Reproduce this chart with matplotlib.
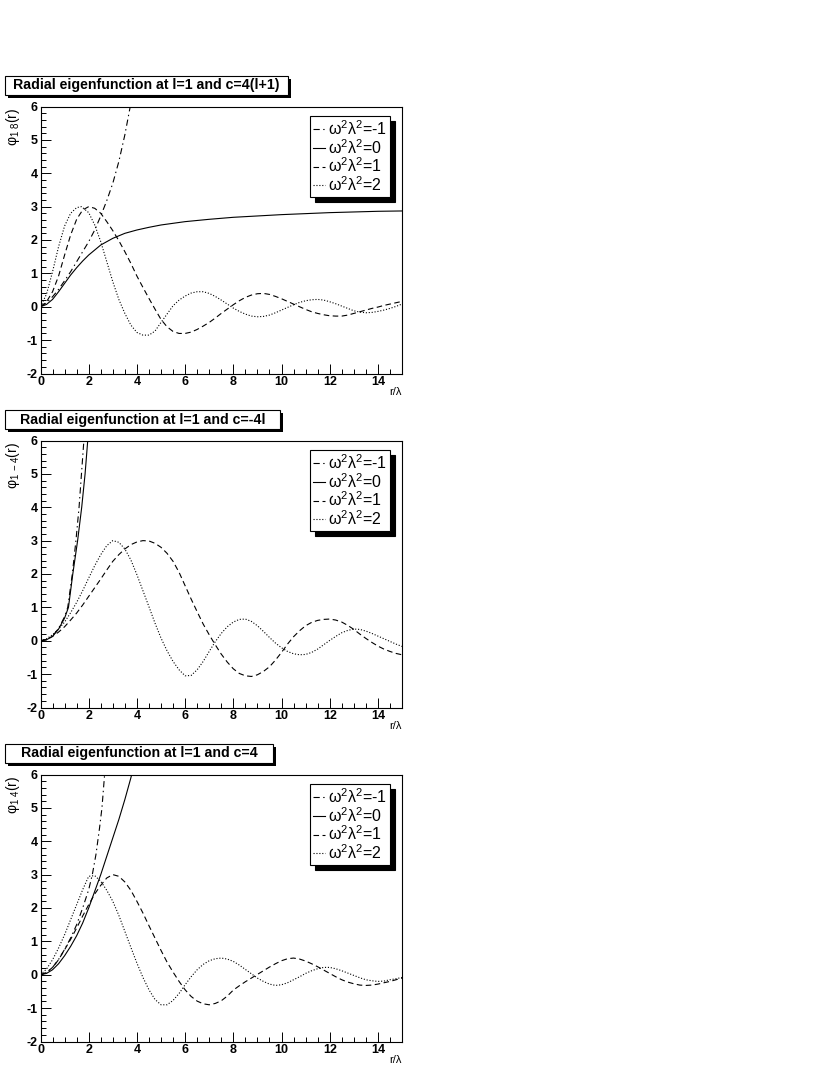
import matplotlib
matplotlib.use('Agg')
import matplotlib.pyplot as plt
from matplotlib.patches import Rectangle
from matplotlib.lines import Line2D

plt.rcParams['font.family'] = ['Liberation Sans', 'DejaVu Sans']
plt.rcParams['mathtext.fontset'] = 'custom'
plt.rcParams['mathtext.rm'] = 'Liberation Sans'
plt.rcParams['mathtext.it'] = 'Liberation Sans:italic'
plt.rcParams['mathtext.bf'] = 'Liberation Sans:bold'
plt.rcParams['lines.scale_dashes'] = False
plt.rcParams['axes.unicode_minus'] = False

# ---------------- data ----------------
titles = ["Radial eigenfunction at l=1 and c=4(l+1)",
          "Radial eigenfunction at l=1 and c=-4l",
          "Radial eigenfunction at l=1 and c=4"]
ylabels = ["1 8", "1 -4", "1 4"]
legend_labels = [r"ω$^{2}$λ$^{2}$=-1", r"ω$^{2}$λ$^{2}$=0",
                 r"ω$^{2}$λ$^{2}$=1", r"ω$^{2}$λ$^{2}$=2"]
xticks = [0, 2, 4, 6, 8, 10, 12, 14]
yticks = [-2, -1, 0, 1, 2, 3, 4, 5, 6]

# panel 1: c = 4(l+1)
p1_m1_x = [0, 0.25, 0.5, 0.75, 1.0, 1.25, 1.5, 1.75, 2.0, 2.25, 2.5, 2.75, 3.0, 3.25, 3.5, 3.75]
p1_m1_y = [0, 0.12, 0.3, 0.52, 0.78, 1.05, 1.35, 1.65, 1.95, 2.3, 2.72, 3.18, 3.7, 4.35, 5.15, 6.1]
p1_0_x = [0, 0.25, 0.5, 0.75, 1, 1.25, 1.5, 1.75, 2, 2.5, 3, 3.5, 4, 4.5, 5, 6, 7, 8, 9, 10, 11, 12, 13, 14, 15]
p1_0_y = [0, 0.07, 0.22, 0.45, 0.7, 0.95, 1.17, 1.37, 1.55, 1.85, 2.05, 2.2, 2.3, 2.38, 2.45, 2.55,
          2.62, 2.68, 2.72, 2.76, 2.79, 2.82, 2.84, 2.86, 2.87]
p1_1_x = [0, 0.25, 0.5, 0.75, 1, 1.25, 1.5, 1.75, 2, 2.25, 2.5, 2.75, 3, 3.25, 3.5, 3.75, 4, 4.25,
          4.5, 4.75, 5, 5.25, 5.5, 5.75, 6, 6.25, 6.5, 6.75, 7, 7.25, 7.5, 7.75, 8, 8.25, 8.5, 8.75,
          9, 9.25, 9.5, 9.75, 10, 10.25, 10.5, 10.75, 11, 11.25, 11.5, 11.75, 12, 12.25, 12.5,
          12.75, 13, 13.25, 13.5, 13.75, 14, 14.25, 14.5, 14.75, 15]
p1_1_y = [0, 0.15, 0.45, 0.92, 1.55, 2.15, 2.62, 2.9, 3.0, 2.95, 2.8, 2.55, 2.28, 1.98, 1.65, 1.3,
          0.92, 0.58, 0.25, -0.07, -0.38, -0.6, -0.74, -0.8, -0.8, -0.76, -0.68, -0.58, -0.47,
          -0.34, -0.2, -0.07, 0.06, 0.18, 0.28, 0.35, 0.39, 0.4, 0.37, 0.31, 0.24, 0.16, 0.08, 0.0,
          -0.08, -0.15, -0.2, -0.24, -0.27, -0.28, -0.28, -0.25, -0.2, -0.15, -0.1, -0.05, -0.01,
          0.04, 0.08, 0.12, 0.16]
p1_2_x = [0, 0.25, 0.5, 0.75, 1, 1.25, 1.5, 1.7, 2, 2.25, 2.5, 2.75, 3, 3.25, 3.5, 3.75, 4, 4.25,
          4.5, 4.75, 5, 5.25, 5.5, 5.75, 6, 6.25, 6.5, 6.75, 7, 7.25, 7.5, 7.75, 8, 8.25, 8.5, 8.75,
          9, 9.25, 9.5, 9.75, 10, 10.25, 10.5, 10.75, 11, 11.25, 11.5, 11.75, 12, 12.25, 12.5,
          12.75, 13, 13.25, 13.5, 13.75, 14, 14.25, 14.5, 14.75, 15]
p1_2_y = [0, 0.38, 1.05, 1.8, 2.42, 2.8, 2.97, 3.0, 2.82, 2.45, 1.95, 1.35, 0.75, 0.22, -0.2, -0.55,
          -0.77, -0.85, -0.85, -0.73, -0.47, -0.22, 0.03, 0.2, 0.32, 0.41, 0.45, 0.45, 0.4, 0.31,
          0.2, 0.08, -0.04, -0.14, -0.22, -0.28, -0.3, -0.29, -0.25, -0.18, -0.1, -0.02, 0.06,
          0.13, 0.18, 0.21, 0.22, 0.2, 0.15, 0.09, 0.02, -0.05, -0.12, -0.16, -0.18, -0.17, -0.14,
          -0.1, -0.05, 0.01, 0.08]

# panel 2: c = -4l
p2_m1_x = [0, 0.25, 0.5, 0.75, 1, 1.13, 1.32, 1.47, 1.6, 1.7, 1.8, 1.85]
p2_m1_y = [0, 0.03, 0.14, 0.37, 0.72, 1.0, 2.0, 3.0, 4.0, 5.0, 6.0, 6.5]
p2_0_x = [0, 0.25, 0.5, 0.75, 1, 1.16, 1.34, 1.54, 1.71, 1.85, 1.96, 2.02]
p2_0_y = [0, 0.03, 0.13, 0.35, 0.68, 1.0, 2.0, 3.0, 4.0, 5.0, 6.0, 6.6]
p2_1_x = [0, 0.25, 0.5, 0.75, 1, 1.25, 1.5, 1.75, 2, 2.25, 2.5, 2.75, 3, 3.25, 3.5, 3.75, 4, 4.25,
          4.5, 4.75, 5, 5.25, 5.5, 5.75, 6, 6.25, 6.5, 6.75, 7, 7.25, 7.5, 7.75, 8, 8.25, 8.5, 8.75,
          9, 9.25, 9.5, 9.75, 10, 10.25, 10.5, 10.75, 11, 11.25, 11.5, 11.75, 12, 12.25, 12.5,
          12.75, 13, 13.25, 13.5, 13.75, 14, 14.25, 14.5, 14.75, 15]
p2_1_y = [0, 0.04, 0.13, 0.26, 0.42, 0.62, 0.83, 1.07, 1.33, 1.59, 1.85, 2.12, 2.38, 2.58, 2.75,
          2.88, 2.96, 3.0, 2.99, 2.92, 2.8, 2.62, 2.38, 2.05, 1.65, 1.25, 0.87, 0.5, 0.18, -0.12,
          -0.4, -0.64, -0.84, -0.98, -1.05, -1.07, -1.02, -0.92, -0.78, -0.58, -0.35, -0.1, 0.12,
          0.3, 0.45, 0.55, 0.61, 0.64, 0.65, 0.62, 0.56, 0.46, 0.34, 0.2, 0.07, -0.05, -0.16,
          -0.25, -0.32, -0.38, -0.42]
p2_2_x = [0, 0.25, 0.5, 0.75, 1, 1.25, 1.5, 1.75, 2, 2.25, 2.5, 2.75, 3, 3.25, 3.5, 3.75, 4, 4.25,
          4.5, 4.75, 5, 5.25, 5.5, 5.75, 6, 6.25, 6.5, 6.75, 7, 7.25, 7.5, 7.75, 8, 8.25, 8.5, 8.75,
          9, 9.25, 9.5, 9.75, 10, 10.25, 10.5, 10.75, 11, 11.25, 11.5, 11.75, 12, 12.25, 12.5,
          12.75, 13, 13.25, 13.5, 13.75, 14, 14.25, 14.5, 14.75, 15]
p2_2_y = [0, 0.06, 0.18, 0.35, 0.56, 0.84, 1.15, 1.5, 1.88, 2.25, 2.58, 2.85, 3.0, 2.95, 2.75, 2.42,
          1.98, 1.5, 1.02, 0.53, 0.08, -0.3, -0.62, -0.87, -1.05, -1.04, -0.87, -0.62, -0.32,
          -0.03, 0.22, 0.42, 0.56, 0.64, 0.65, 0.58, 0.45, 0.28, 0.1, -0.07, -0.21, -0.32, -0.39,
          -0.42, -0.41, -0.35, -0.25, -0.12, 0.01, 0.13, 0.24, 0.31, 0.35, 0.34, 0.29, 0.22, 0.14,
          0.06, -0.02, -0.1, -0.17]

# panel 3: c = 4
p3_m1_x = [0, 0.25, 0.5, 0.75, 1, 1.25, 1.5, 1.75, 2, 2.15, 2.3, 2.45, 2.55, 2.66, 2.7]
p3_m1_y = [0, 0.06, 0.22, 0.46, 0.76, 1.1, 1.5, 2.0, 2.55, 3.0, 3.6, 4.4, 5.0, 6.0, 6.3]
p3_0_x = [0, 0.25, 0.5, 0.75, 1, 1.25, 1.5, 1.75, 2, 2.25, 2.5, 2.75, 3, 3.25, 3.5, 3.75, 3.8]
p3_0_y = [0, 0.04, 0.15, 0.33, 0.57, 0.85, 1.17, 1.55, 2.0, 2.5, 3.0, 3.55, 4.1, 4.65, 5.25, 5.9, 6.05]
p3_1_x = [0, 0.25, 0.5, 0.75, 1, 1.25, 1.5, 1.75, 2, 2.25, 2.5, 2.75, 3, 3.25, 3.5, 3.75, 4, 4.25,
          4.5, 4.75, 5, 5.25, 5.5, 5.75, 6, 6.25, 6.5, 6.75, 7, 7.25, 7.5, 7.75, 8, 8.25, 8.5, 8.75,
          9, 9.25, 9.5, 9.75, 10, 10.25, 10.5, 10.75, 11, 11.25, 11.5, 11.75, 12, 12.25, 12.5,
          12.75, 13, 13.25, 13.5, 13.75, 14, 14.25, 14.5, 14.75, 15]
p3_1_y = [0, 0.07, 0.22, 0.45, 0.75, 1.06, 1.4, 1.76, 2.1, 2.42, 2.68, 2.9, 3.0, 2.95, 2.78, 2.53,
          2.2, 1.85, 1.47, 1.1, 0.73, 0.38, 0.08, -0.2, -0.45, -0.65, -0.79, -0.87, -0.9, -0.86,
          -0.78, -0.64, -0.46, -0.33, -0.21, -0.1, 0.01, 0.12, 0.23, 0.33, 0.42, 0.48, 0.5, 0.47,
          0.41, 0.33, 0.24, 0.14, 0.04, -0.06, -0.15, -0.22, -0.27, -0.31, -0.32, -0.31, -0.28,
          -0.24, -0.2, -0.15, -0.1]
p3_2_x = [0, 0.25, 0.5, 0.75, 1, 1.25, 1.5, 1.75, 2, 2.25, 2.5, 2.75, 3, 3.25, 3.5, 3.75, 4, 4.25,
          4.5, 4.75, 5, 5.25, 5.5, 5.75, 6, 6.25, 6.5, 6.75, 7, 7.25, 7.5, 7.75, 8, 8.25, 8.5, 8.75,
          9, 9.25, 9.5, 9.75, 10, 10.25, 10.5, 10.75, 11, 11.25, 11.5, 11.75, 12, 12.25, 12.5,
          12.75, 13, 13.25, 13.5, 13.75, 14, 14.25, 14.5, 14.75, 15]
p3_2_y = [0, 0.17, 0.45, 0.8, 1.2, 1.65, 2.1, 2.55, 2.95, 2.97, 2.8, 2.53, 2.2, 1.78, 1.3, 0.82,
          0.35, -0.08, -0.45, -0.74, -0.9, -0.9, -0.77, -0.56, -0.3, -0.06, 0.15, 0.31, 0.42, 0.48,
          0.5, 0.47, 0.4, 0.29, 0.16, 0.03, -0.1, -0.2, -0.28, -0.32, -0.3, -0.24, -0.15, -0.06,
          0.04, 0.12, 0.18, 0.22, 0.22, 0.18, 0.12, 0.05, -0.02, -0.09, -0.15, -0.18, -0.2, -0.19,
          -0.15, -0.12, -0.08]

panels = [
    [(p1_m1_x, p1_m1_y), (p1_0_x, p1_0_y), (p1_1_x, p1_1_y), (p1_2_x, p1_2_y)],
    [(p2_m1_x, p2_m1_y), (p2_0_x, p2_0_y), (p2_1_x, p2_1_y), (p2_2_x, p2_2_y)],
    [(p3_m1_x, p3_m1_y), (p3_0_x, p3_0_y), (p3_1_x, p3_1_y), (p3_2_x, p3_2_y)],
]

# ---------------- styling ----------------
W, H = 830, 1075
LW = 0.8
styles = [(0, (4.5, 2.5, 1.0, 2.5)), '-', (0, (4.0, 2.5)), (0, (0.8, 1.3))]
title_box_right = [288, 280, 273]

fig = plt.figure(figsize=(W / 100, H / 100), dpi=100)


def fr(x0, y0, x1, y1):
    return [x0 / W, 1 - y1 / H, (x1 - x0) / W, (y1 - y0) / H]


for k in range(3):
    off = 334 * k
    top, bot = 106.5 + off, 373.5 + off
    ax = fig.add_axes(fr(40.5, top, 402, bot))
    for (xs, ys), ls in zip(panels[k], styles):
        ax.plot(xs, ys, color='black', lw=LW, linestyle=ls)
    ax.set_xlim(0, 15)
    ax.set_ylim(-2, 6)
    ax.set_xticks(xticks)
    ax.set_yticks(yticks)
    ax.set_xticks([v * 0.5 for v in range(31)], minor=True)
    ax.set_yticks([-2 + v * 0.2 for v in range(41)], minor=True)
    ax.tick_params(which='major', direction='in', length=7, width=0.7,
                   labelsize=9, pad=2)
    ax.tick_params(which='minor', direction='in', length=3.5, width=0.7)
    ax.tick_params(top=False, right=False, which='both')
    for lab in ax.get_xticklabels() + ax.get_yticklabels():
        lab.set_fontweight('bold')
    for sp in ax.spines.values():
        sp.set_linewidth(0.8)

    handles = [Line2D([], [], color='black', lw=LW, linestyle=ls) for ls in styles]
    leg = ax.legend(handles, legend_labels, loc='upper right',
                    bbox_to_anchor=(390 / W, 1 - (116 + off) / H),
                    bbox_transform=fig.transFigure, borderaxespad=0,
                    fancybox=False, edgecolor='black', framealpha=1,
                    shadow={'ox': 3.6, 'oy': -3.6, 'facecolor': 'black',
                            'edgecolor': 'black', 'alpha': 1},
                    handlelength=0.75, handletextpad=0.15, borderpad=0.2,
                    labelspacing=0.0, fontsize=11.5)
    leg.get_frame().set_linewidth(0.8)

    # title box with shadow
    bx0, by0, bx1, by1 = 5, 76 + off, title_box_right[k], 95 + off
    fig.add_artist(Rectangle((bx0 / W + 3 / W, 1 - (by1 + 3) / H), (bx1 - bx0) / W, (by1 - by0) / H,
                             transform=fig.transFigure, facecolor='black', edgecolor='black', lw=0))
    fig.add_artist(Rectangle((bx0 / W, 1 - by1 / H), (bx1 - bx0) / W, (by1 - by0) / H,
                             transform=fig.transFigure, facecolor='white', edgecolor='black', lw=0.8))
    fig.text((bx0 + bx1) / 2 / W, 1 - (by0 + by1) / 2 / H, titles[k], ha='center', va='center',
             fontsize=10.2, fontweight='bold')

    fig.text(13 / W, 1 - (108 + off) / H, "φ$_{%s}$(r)" % ylabels[k].replace(' ', r'\ '),
             rotation=90, ha='center', va='top', fontsize=10)
    fig.text(402 / W, 1 - (392 + off) / H, "r/λ", ha='right', va='center', fontsize=8)

fig.savefig('out.png', dpi=100)
